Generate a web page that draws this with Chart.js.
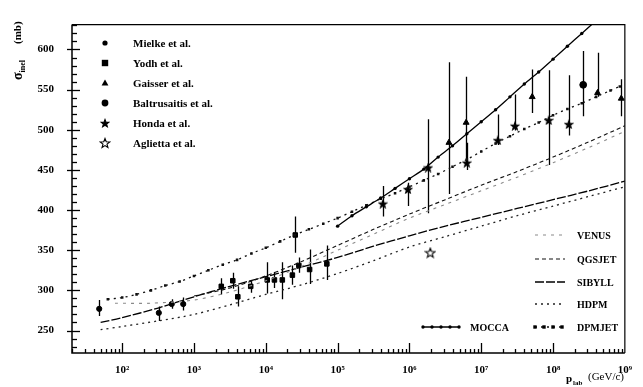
<!DOCTYPE html>
<html><head><meta charset="utf-8">
<script src="https://cdn.jsdelivr.net/npm/chart.js@4.4.1/dist/chart.umd.min.js"></script>
<style>html,body{margin:0;padding:0;background:#fff;}#wrap{width:643px;height:387px;position:relative;}</style>
</head><body><div id="wrap"><canvas id="c" width="643" height="387"></canvas></div>
<script>
// ---------------- data (log10 of p_lab in GeV/c, sigma_inel in mb) ----------------
const xTickExponents = [2, 3, 4, 5, 6, 7, 8, 9];
const yTickValues = [250, 300, 350, 400, 450, 500, 550, 600];

const mielkeLgE   = [1.68, 2.51, 2.69, 2.85];
const mielkeSigma = [277, 272, 283, 283];
const mielkeLow   = [268, 262, 277, 275];
const mielkeHigh  = [288, 280, 289, 291];

const yodhLgE   = [3.38, 3.54, 3.61, 3.79, 4.02, 4.12, 4.23, 4.37, 4.41, 4.46, 4.61, 4.85];
const yodhSigma = [305, 312, 292, 305, 313, 313, 313, 319, 369, 331, 326, 333];
const yodhLow   = [295, 302, 280, 297, 296, 303, 289, 307, 347, 322, 308, 313];
const yodhHigh  = [315, 322, 305, 312, 335, 323, 335, 331, 392, 341, 351, 356];

const gaisserLgE   = [6.55, 6.79, 7.71, 8.62, 8.95];
const gaisserSigma = [484, 509, 541, 546, 539];
const gaisserLow   = [420, 456, 521, 541, 517];
const gaisserHigh  = [584, 566, 575, 596, 563];

const baltrusaitisLgE   = [8.42];
const baltrusaitisSigma = [556];
const baltrusaitisLow   = [517];
const baltrusaitisHigh  = [598];

const hondaLgE   = [5.63, 5.98, 6.26, 6.80, 7.23, 7.47, 7.94, 8.22];
const hondaSigma = [408, 426, 453, 459, 487, 505, 512, 507];
const hondaLow   = [392, 405, 396, 450, 481, 499, 456, 493];
const hondaHigh  = [430, 434, 513, 484, 519, 544, 574, 568];

const agliettaLgE   = [6.29];
const agliettaSigma = [347];

// model curves
const venusLgE   = [1.9, 2.4, 3.0, 3.5, 4.0, 4.5, 5.0, 5.5, 6.0, 6.5, 7.0, 7.5, 8.0, 8.5, 9.0];
const venusSigma = [284, 284, 288, 298, 312, 330, 350, 370, 390, 407, 424, 441, 459, 478, 498];

const qgsjetLgE   = [3.0, 3.5, 4.0, 4.5, 5.0, 5.5, 6.0, 6.5, 7.0, 7.5, 8.0, 8.5, 9.0];
const qgsjetSigma = [293, 303, 318, 336, 356, 376, 395, 413, 431, 448, 466, 485, 505];

const sibyllLgE   = [1.7, 2.0, 2.5, 3.0, 3.5, 4.0, 4.5, 5.0, 5.5, 6.0, 6.5, 7.0, 7.5, 8.0, 8.5, 9.0];
const sibyllSigma = [260, 266, 278, 292, 305, 317, 329, 341, 355, 368, 380, 391, 402, 413, 424, 436];

const hdpmLgE   = [1.7, 2.0, 2.5, 3.0, 3.5, 4.0, 4.5, 5.0, 5.5, 6.0, 6.5, 7.0, 7.5, 8.0, 8.5, 9.0];
const hdpmSigma = [251, 255, 262, 270, 282, 295, 307, 321, 337, 354, 367, 380, 393, 405, 417, 429];

const moccaLgE   = [5.0, 5.2, 5.4, 5.6, 5.8, 6.0, 6.2, 6.4, 6.6, 6.8, 7.0, 7.2, 7.4, 7.6, 7.8, 8.0, 8.2, 8.4, 8.6];
const moccaSigma = [380, 393, 404, 415, 427, 439, 451, 466, 480, 495, 510, 525, 541, 557, 572, 588, 604, 620, 636];

const dpmjetLgE   = [1.8, 2.0, 2.2, 2.4, 2.6, 2.8, 3.0, 3.2, 3.4, 3.6, 3.8, 4.0, 4.2, 4.4, 4.6, 4.8, 5.0, 5.2, 5.4, 5.6, 5.8, 6.0, 6.2, 6.4, 6.6, 6.8, 7.0, 7.2, 7.4, 7.6, 7.8, 8.0, 8.2, 8.4, 8.6, 8.8, 8.93];
const dpmjetSigma = [289, 291, 295, 300, 306, 311, 318, 325, 332, 338, 346, 353, 361, 369, 376, 383, 390, 398, 406, 414, 421, 429, 437, 445, 454, 463, 473, 483, 492, 501, 509, 518, 526, 533, 541, 549, 554];

// ---------------- helpers ----------------
const pts = (lg, s) => lg.map((e, i) => ({ x: Math.pow(10, e), y: s[i] }));
const SERIF = '"Liberation Serif", "DejaVu Serif", serif';

function starImage(size, filled) {
  const c = document.createElement('canvas');
  c.width = size; c.height = size;
  const g = c.getContext('2d');
  const cx = size / 2, cy = size / 2 + 0.5, ro = size / 2 - 1, ri = ro * 0.42;
  g.beginPath();
  for (let i = 0; i < 10; i++) {
    const a = -Math.PI / 2 + i * Math.PI / 5;
    const r = i % 2 ? ri : ro;
    const px = cx + r * Math.cos(a), py = cy + r * Math.sin(a);
    if (i === 0) g.moveTo(px, py); else g.lineTo(px, py);
  }
  g.closePath();
  if (filled) { g.fillStyle = '#000'; g.fill(); }
  g.lineWidth = 1.1; g.strokeStyle = '#000'; g.stroke();
  return c;
}
const hondaStar = starImage(10, true);
const agliettaStar = starImage(12, false);

const sup = { 2: '\u00B2', 3: '\u00B3', 4: '\u2074', 5: '\u2075', 6: '\u2076', 7: '\u2077', 8: '\u2078', 9: '\u2079' };

function pointDS(label, lg, s, lo, hi, style, radius) {
  return {
    type: 'scatter', label, data: pts(lg, s), errLow: lo, errHigh: hi,
    pointStyle: style, pointRadius: radius, pointHoverRadius: radius,
    backgroundColor: '#000', borderColor: '#000', borderWidth: 1,
    showLine: false
  };
}
function lineDS(label, lg, s, dash, width, color, ptStyle, ptRadius) {
  return {
    type: 'scatter', label, data: pts(lg, s), showLine: true,
    borderColor: color, backgroundColor: color, borderWidth: width, borderDash: dash,
    pointRadius: ptRadius || 0, pointStyle: ptStyle || 'circle', pointBorderWidth: 0,
    tension: 0.3, isModel: true
  };
}

const datasets = [
  lineDS('VENUS', venusLgE, venusSigma, [3, 5], 1.1, '#8a8a8a'),
  lineDS('QGSJET', qgsjetLgE, qgsjetSigma, [4, 3], 1.1, '#111'),
  lineDS('SIBYLL', sibyllLgE, sibyllSigma, [9, 2], 1.3, '#000'),
  lineDS('HDPM', hdpmLgE, hdpmSigma, [2, 4], 1.3, '#222'),
  lineDS('MOCCA', moccaLgE, moccaSigma, [], 1.3, '#000', 'circle', 1.7),
  lineDS('DPMJET', dpmjetLgE, dpmjetSigma, [2, 4], 1.3, '#111', 'rect', 1.8),
  pointDS('Mielke et al.', mielkeLgE, mielkeSigma, mielkeLow, mielkeHigh, 'circle', 2.6),
  pointDS('Yodh et al.', yodhLgE, yodhSigma, yodhLow, yodhHigh, 'rect', 3.2),
  pointDS('Gaisser et al.', gaisserLgE, gaisserSigma, gaisserLow, gaisserHigh, 'triangle', 3.4),
  pointDS('Baltrusaitis et al.', baltrusaitisLgE, baltrusaitisSigma, baltrusaitisLow, baltrusaitisHigh, 'circle', 3.4),
  pointDS('Honda et al.', hondaLgE, hondaSigma, hondaLow, hondaHigh, hondaStar, 5),
  pointDS('Aglietta et al.', agliettaLgE, agliettaSigma, null, null, agliettaStar, 6)
];

// ---------------- decorations plugin ----------------
const deco = {
  id: 'deco',
  beforeDatasetsDraw(chart) {
    const { ctx, chartArea: a, scales: { x, y } } = chart;
    ctx.save();
    ctx.beginPath(); ctx.rect(a.left, a.top, a.right - a.left, a.bottom - a.top); ctx.clip();
    ctx.strokeStyle = '#000'; ctx.lineWidth = 1.3;
    chart.data.datasets.forEach(ds => {
      if (!ds.errLow) return;
      ds.data.forEach((p, i) => {
        const px = Math.round(x.getPixelForValue(p.x)) + 0.5;
        ctx.beginPath();
        ctx.moveTo(px, y.getPixelForValue(ds.errLow[i]));
        ctx.lineTo(px, y.getPixelForValue(ds.errHigh[i]));
        ctx.stroke();
      });
    });
    ctx.restore();
  },
  afterDraw(chart) {
    const { ctx, chartArea: a, scales: { x, y } } = chart;
    ctx.save();
    // frame
    ctx.strokeStyle = '#000';
    ctx.lineWidth = 1.5;
    ctx.beginPath();
    ctx.moveTo(a.left, a.top); ctx.lineTo(a.left, a.bottom); ctx.lineTo(a.right, a.bottom);
    ctx.stroke();
    ctx.lineWidth = 1.2;
    ctx.beginPath();
    ctx.moveTo(a.left, a.top); ctx.lineTo(a.right, a.top); ctx.lineTo(a.right, a.bottom);
    ctx.stroke();
    // y ticks
    ctx.lineWidth = 1.3;
    for (let v = 230; v <= 630; v += 10) {
      const py = Math.round(y.getPixelForValue(v)) + 0.5;
      const major = v % 50 === 0;
      ctx.beginPath();
      ctx.moveTo(a.left - (major ? 5 : 0), py); ctx.lineTo(a.left + (major ? 8 : 5), py);
      ctx.stroke();
    }
    // x ticks
    for (let e = 1; e <= 8; e++) {
      for (let m = 1; m <= 9; m++) {
        const val = m * Math.pow(10, e);
        if (val < x.min || val > x.max) continue;
        const px = Math.round(x.getPixelForValue(val)) + 0.5;
        const major = m === 1;
        ctx.beginPath();
        ctx.moveTo(px, a.bottom); ctx.lineTo(px, a.bottom - (major ? 10 : 4));
        ctx.stroke();
      }
    }
    // axis titles
    ctx.fillStyle = '#000';
    ctx.save();
    ctx.translate(18, 80);
    ctx.rotate(-Math.PI / 2);
    ctx.textBaseline = 'middle'; ctx.textAlign = 'left';
    ctx.font = 'bold 14px ' + SERIF;
    ctx.fillText('\u03C3', 0, 0);
    const w = ctx.measureText('\u03C3').width;
    ctx.font = 'bold 8px ' + SERIF;
    ctx.fillText('inel', w, 5);
    ctx.font = 'bold 11px ' + SERIF;
    ctx.fillText('(mb)', 36, 0);
    ctx.restore();

    ctx.textBaseline = 'alphabetic'; ctx.textAlign = 'left';
    ctx.font = 'bold 11px ' + SERIF;
    ctx.fillText('p', 566, 382);
    ctx.font = 'bold 7px ' + SERIF;
    ctx.fillText('lab', 573, 385);
    ctx.font = '11px ' + SERIF;
    ctx.fillText('(GeV/c)', 588, 380);

    // data legend (top left)
    const rows = [43, 63, 83, 103, 123, 143];
    const pointSets = chart.data.datasets.filter(d => !d.isModel);
    ctx.font = 'bold 11px ' + SERIF;
    ctx.textBaseline = 'middle';
    pointSets.forEach((ds, i) => {
      const cy = rows[i], cx = 105;
      ctx.fillStyle = '#000'; ctx.strokeStyle = '#000'; ctx.lineWidth = 1;
      const st = ds.pointStyle, r = ds.pointRadius;
      if (st === 'circle') { ctx.beginPath(); ctx.arc(cx, cy, r, 0, Math.PI * 2); ctx.fill(); }
      else if (st === 'rect') { ctx.fillRect(cx - r, cy - r, 2 * r, 2 * r); }
      else if (st === 'triangle') {
        ctx.beginPath(); ctx.moveTo(cx, cy - r); ctx.lineTo(cx + r, cy + r * 0.7); ctx.lineTo(cx - r, cy + r * 0.7); ctx.closePath(); ctx.fill();
      } else if (st instanceof HTMLCanvasElement) {
        ctx.drawImage(st, cx - st.width / 2, cy - st.height / 2);
      }
      ctx.fillText(ds.label, 133, cy + 1);
    });

    // model legend (bottom right)
    const models = chart.data.datasets.filter(d => d.isModel);
    const place = {
      'VENUS': [535, 565, 577, 235], 'QGSJET': [535, 565, 577, 259], 'SIBYLL': [535, 565, 577, 282],
      'HDPM': [535, 565, 577, 304], 'MOCCA': [423, 460, 470, 327], 'DPMJET': [535, 565, 577, 327]
    };
    models.forEach(ds => {
      const [x1, x2, tx, ly] = place[ds.label];
      ctx.strokeStyle = ds.borderColor; ctx.lineWidth = ds.borderWidth;
      ctx.setLineDash(ds.borderDash || []);
      ctx.beginPath(); ctx.moveTo(x1, ly); ctx.lineTo(x2, ly); ctx.stroke();
      ctx.setLineDash([]);
      if (ds.pointRadius > 0) {
        ctx.fillStyle = '#000';
        for (let xx = x1; xx <= x2; xx += 9) {
          if (ds.pointStyle === 'rect') ctx.fillRect(xx - 1.7, ly - 1.7, 3.4, 3.4);
          else { ctx.beginPath(); ctx.arc(xx, ly, 1.7, 0, Math.PI * 2); ctx.fill(); }
        }
      }
      ctx.fillStyle = '#000';
      ctx.font = 'bold 10px ' + SERIF;
      ctx.fillText(ds.label, tx, ly + 1);
    });
    ctx.restore();
  }
};

new Chart(document.getElementById('c'), {
  type: 'scatter',
  data: { datasets },
  options: {
    responsive: false, animation: false, devicePixelRatio: 1,
    layout: { padding: { left: 0, right: 11, top: 16, bottom: 0 } },
    plugins: { legend: { display: false }, tooltip: { enabled: false } },
    scales: {
      x: {
        type: 'logarithmic', min: 20, max: 1e9,
        grid: { display: false, drawTicks: false }, border: { display: false },
        afterBuildTicks: s => { s.ticks = xTickExponents.map(e => ({ value: Math.pow(10, e) })); },
        afterFit: s => { s.height = 34; },
        ticks: {
          autoSkip: false, maxRotation: 0, padding: 11, color: '#000',
          font: { family: SERIF, size: 11, weight: 'bold' },
          callback: v => '10' + sup[Math.round(Math.log10(v))]
        }
      },
      y: {
        type: 'linear', min: 222, max: 631,
        grid: { display: false, drawTicks: false }, border: { display: false },
        afterBuildTicks: s => { s.ticks = yTickValues.map(v => ({ value: v })); },
        afterFit: s => { s.width = 72; },
        ticks: {
          padding: 18, color: '#000',
          font: { family: SERIF, size: 11, weight: 'bold' }
        }
      }
    }
  },
  plugins: [deco]
});
</script>
</body></html>
